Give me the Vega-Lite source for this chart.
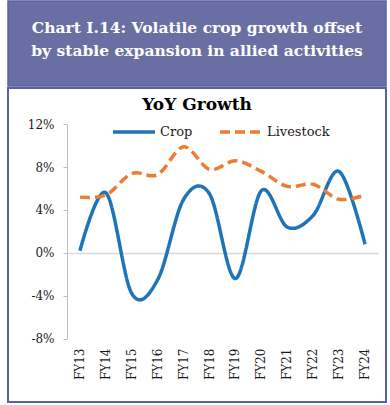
{
  "$schema": "https://vega.github.io/schema/vega-lite/v6.json",
  "padding": {"left": 7, "top": 0, "right": 0, "bottom": 0},
  "background": "white",
  "spacing": 0,
  "config": {"font": "DejaVu Serif"},
  "vconcat": [
    {
      "width": 378,
      "height": 85,
      "view": {"fill": "#6a6fa3", "stroke": "#5b61a0", "strokeWidth": 1.5},
      "data": {"values": [
        {"row": 1, "line": "Chart I.14: Volatile crop growth offset"},
        {"row": 2, "line": "by stable expansion in allied activities"}
      ]},
      "mark": {"type": "text", "font": "DejaVu Serif", "fontWeight": "bold", "fontSize": 15.5, "color": "#ffffff", "baseline": "alphabetic", "align": "center"},
      "encoding": {
        "y": {"field": "row", "type": "ordinal", "axis": null, "scale": {"type": "point", "range": [32, 55], "padding": 0}},
        "text": {"field": "line"}
      }
    },
    {
      "width": 378,
      "height": 314,
      "view": {"fill": "white", "stroke": "#5b61a0", "strokeWidth": 2},
      "title": {"text": "YoY Growth", "font": "DejaVu Serif", "fontSize": 17, "fontWeight": "bold", "color": "#000000", "offset": -26, "anchor": "middle", "frame": "group"},
      "data": {"values": [
        {"fy": "FY13", "series": "Crop", "v": 0.2},
        {"fy": "FY14", "series": "Crop", "v": 5.6},
        {"fy": "FY15", "series": "Crop", "v": -3.8},
        {"fy": "FY16", "series": "Crop", "v": -2.5},
        {"fy": "FY17", "series": "Crop", "v": 5.0},
        {"fy": "FY18", "series": "Crop", "v": 5.5},
        {"fy": "FY19", "series": "Crop", "v": -2.4},
        {"fy": "FY20", "series": "Crop", "v": 5.8},
        {"fy": "FY21", "series": "Crop", "v": 2.4},
        {"fy": "FY22", "series": "Crop", "v": 3.5},
        {"fy": "FY23", "series": "Crop", "v": 7.6},
        {"fy": "FY24", "series": "Crop", "v": 0.8},
        {"fy": "FY13", "series": "Livestock", "v": 5.2},
        {"fy": "FY14", "series": "Livestock", "v": 5.4},
        {"fy": "FY15", "series": "Livestock", "v": 7.4},
        {"fy": "FY16", "series": "Livestock", "v": 7.3},
        {"fy": "FY17", "series": "Livestock", "v": 9.9},
        {"fy": "FY18", "series": "Livestock", "v": 7.8},
        {"fy": "FY19", "series": "Livestock", "v": 8.6},
        {"fy": "FY20", "series": "Livestock", "v": 7.6},
        {"fy": "FY21", "series": "Livestock", "v": 6.2},
        {"fy": "FY22", "series": "Livestock", "v": 6.4},
        {"fy": "FY23", "series": "Livestock", "v": 5.0},
        {"fy": "FY24", "series": "Livestock", "v": 5.4}
      ]},
      "mark": {"type": "line", "interpolate": "cardinal", "strokeWidth": 3.5},
      "encoding": {
        "x": {
          "field": "fy", "type": "nominal", "sort": null,
          "scale": {"type": "band", "range": [59, 370], "paddingInner": 0, "paddingOuter": 0},
          "axis": {"title": null, "orient": "bottom", "offset": -149, "domain": true, "domainColor": "#d9d9d9", "domainWidth": 1.5, "ticks": false, "labelPadding": 95, "labelAngle": -90, "labelFont": "DejaVu Serif", "labelFontSize": 12, "labelColor": "#1a1a1a", "grid": false}
        },
        "y": {
          "field": "v", "type": "quantitative",
          "scale": {"domain": [-8, 12], "range": [250.5, 36.3], "nice": false, "zero": false},
          "axis": {"title": null, "orient": "left", "offset": -59, "values": [-8, -4, 0, 4, 8, 12], "labelExpr": "datum.value + '%'", "grid": false, "domainColor": "#bfbfbf", "tickColor": "#bfbfbf", "tickSize": 4, "labelPadding": 9, "labelFont": "DejaVu Serif", "labelFontSize": 12, "labelColor": "#1a1a1a"}
        },
        "color": {
          "field": "series", "type": "nominal",
          "scale": {"domain": ["Crop", "Livestock"], "range": ["#1f73b7", "#ed7d31"]},
          "legend": {"title": null, "orient": "none", "legendX": 103, "legendY": 108, "direction": "horizontal", "symbolType": "stroke", "symbolSize": 1764, "symbolStrokeWidth": 3.5, "labelFont": "DejaVu Serif", "labelFontSize": 13, "labelColor": "#1a1a1a", "labelOffset": 3, "columnPadding": 20}
        },
        "strokeDash": {
          "field": "series", "type": "nominal",
          "scale": {"domain": ["Crop", "Livestock"], "range": [[1, 0], [10, 5]]},
          "legend": {"title": null, "orient": "none", "legendX": 103, "legendY": 108, "direction": "horizontal", "symbolType": "stroke", "symbolSize": 1764, "symbolStrokeWidth": 3.5, "labelFont": "DejaVu Serif", "labelFontSize": 13, "labelColor": "#1a1a1a", "labelOffset": 3, "columnPadding": 20}
        }
      }
    }
  ]
}
